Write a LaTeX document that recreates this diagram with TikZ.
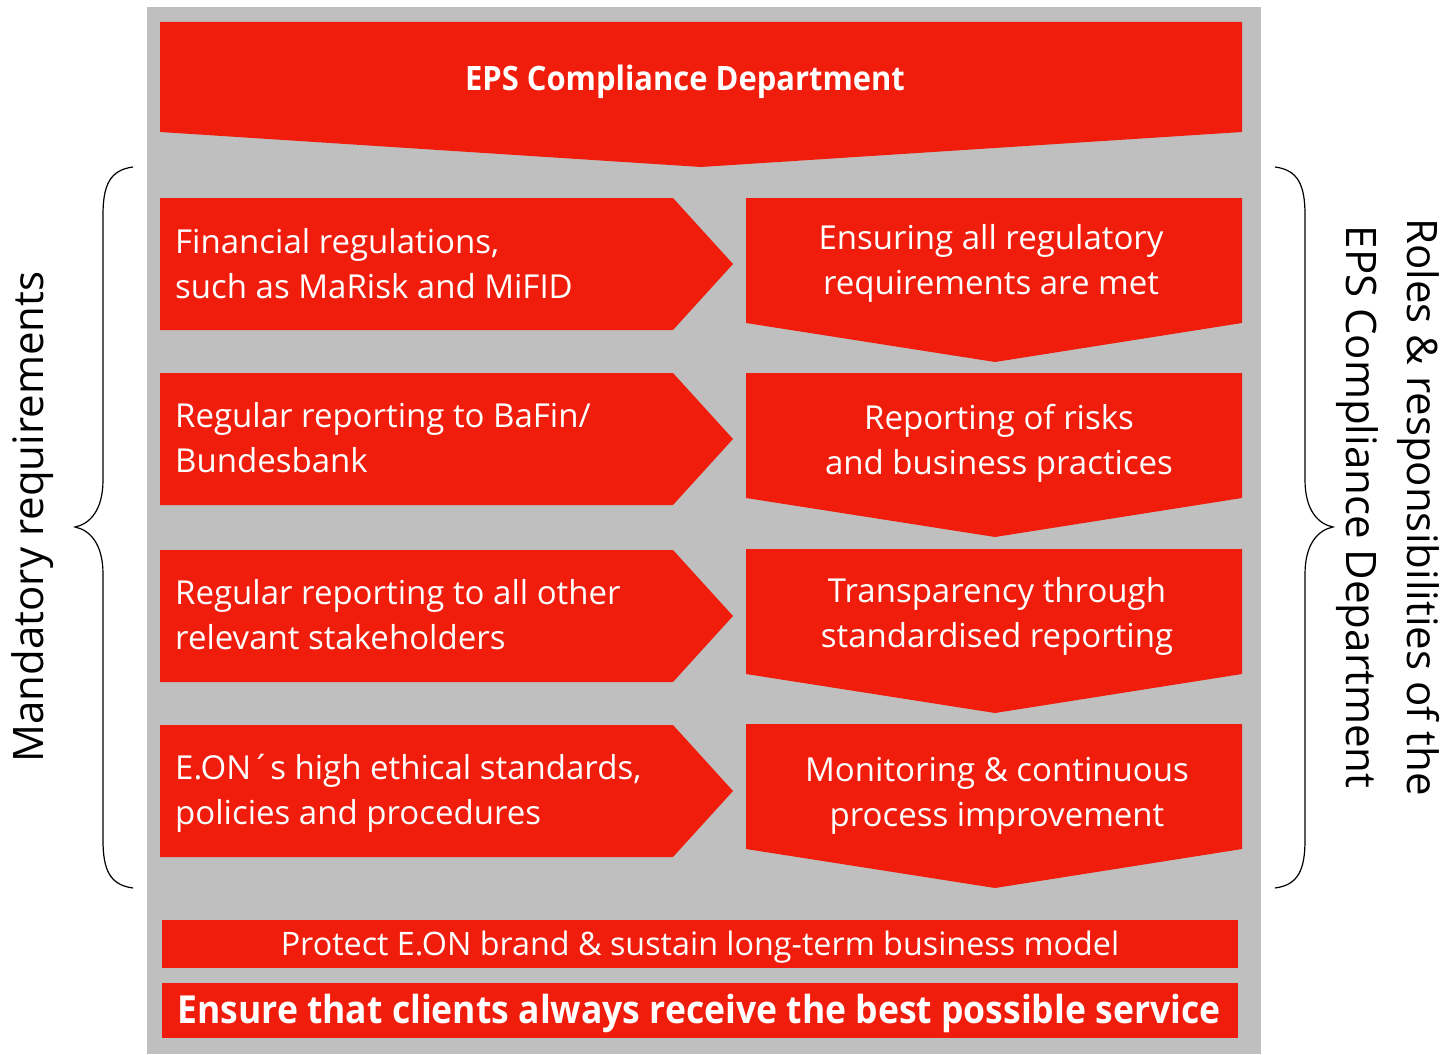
\documentclass[tikz,border=0pt]{standalone}
\usepackage{fontspec}
\setmainfont{Open Sans}
\newfontfamily\condreg{Open Sans}
\newfontfamily\condbold{Open Sans}[FakeStretch=0.92]
\definecolor{eonred}{HTML}{F01D0C}
\definecolor{panelgray}{HTML}{BFBFBF}
\begin{document}
\begin{tikzpicture}[x=1pt,y=-1pt,
  redshape/.style={fill=eonred,draw=none},
  boxtext/.style={text=white,font=\condreg\fontsize{33}{45}\selectfont,inner sep=0pt},
  sidetext/.style={text=black,font=\condreg\fontsize{42}{61}\selectfont,inner sep=0pt},
  brace/.style={draw=black,line width=1.2pt}]
\useasboundingbox (0,0) rectangle (1447,1054);
% panel
\fill[panelgray] (147,7) rectangle (1261,1054);
% title banner
\fill[redshape] (160,22) -- (1242,22) -- (1242,132) -- (701,167) -- (160,132) -- cycle;
\node[text=white,font=\condbold\bfseries\fontsize{33.6}{40}\selectfont,inner sep=0pt] (title) at (685,82) {EPS Compliance Department};
% left arrows
\foreach \t in {198,373,550,725}{
  \fill[redshape] (160,\t) -- (673,\t) -- (733,\t+66) -- (673,\t+132) -- (160,\t+132) -- cycle;
}
% right chevrons
\foreach \t in {198,373,549,724}{
  \fill[redshape] (746,\t) -- (1242,\t) -- (1242,\t+125) -- (995,\t+164) -- (746,\t+125) -- cycle;
}
\node[boxtext,anchor=west,align=left] (l1) at (175,264) {Financial regulations,\\such as MaRisk and MiFID};
\node[boxtext,anchor=west,align=left] (l2) at (175,438) {Regular reporting to BaFin/\\Bundesbank};
\node[boxtext,anchor=west,align=left] (l3) at (175,615) {Regular reporting to all other\\relevant stakeholders};
\node[boxtext,anchor=west,align=left] (l4) at (175,793) {E.ON´s high ethical standards,\\policies and procedures};
\node[boxtext,align=center] (r1) at (991,263) {Ensuring all regulatory\\requirements are met};
\node[boxtext,align=center] (r2) at (999,443) {Reporting of risks\\and business practices};
\node[boxtext,align=center] (r3) at (997,616) {Transparency through\\standardised reporting};
\node[boxtext,align=center] (r4) at (997,796) {Monitoring \& continuous\\process improvement};
% bottom bars
\fill[redshape] (162,920) rectangle (1238,968);
\fill[redshape] (162,983) rectangle (1238,1038);
\node[boxtext,font=\condreg\fontsize{32.3}{40}\selectfont] (b1) at (700,947) {Protect E.ON brand \& sustain long-term business model};
\node[text=white,font=\condbold\bfseries\fontsize{38.6}{40}\selectfont,inner sep=0pt] (b2) at (699,1013) {Ensure that clients always receive the best possible service};
% braces
\draw[brace] (133,167) .. controls (110,170) and (103,185) .. (103,215) -- (103,480) .. controls (103,510) and (90,524) .. (75,527)
  .. controls (90,530) and (103,544) .. (103,574) -- (103,840) .. controls (103,870) and (110,885) .. (133,888);
\draw[brace] (1275,167) .. controls (1298,170) and (1305,185) .. (1305,215) -- (1305,480) .. controls (1305,510) and (1318,524) .. (1333,527)
  .. controls (1318,530) and (1305,544) .. (1305,574) -- (1305,840) .. controls (1305,870) and (1298,885) .. (1275,888);
% side labels
\node[sidetext,rotate=90] (lab1) at (33,517) {Mandatory requirements};
\node[sidetext,rotate=-90,align=center] (lab2) at (1388,507) {Roles \& responsibilities of the\\EPS Compliance Department};
\end{tikzpicture}
\end{document}
